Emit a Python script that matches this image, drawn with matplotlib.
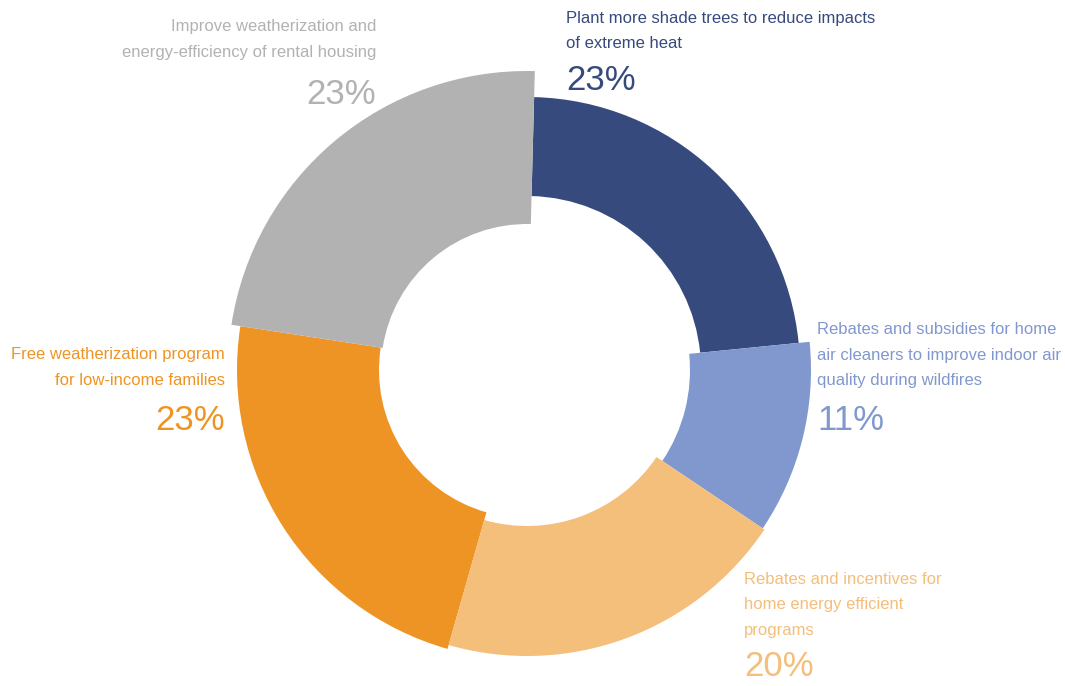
import matplotlib
matplotlib.use('Agg')
import matplotlib.pyplot as plt

# slices in drawing order (clockwise from top)
labels = ['Plant more shade trees to reduce impacts\nof extreme heat',
          'Rebates and subsidies for home\nair cleaners to improve indoor air\nquality during wildfires',
          'Rebates and incentives for\nhome energy efficient\nprograms',
          'Free weatherization program\nfor low-income families',
          'Improve weatherization and\nenergy-efficiency of rental housing']
values = [23, 11, 20, 23, 23]
colors = ['#374a7d', '#8198cf', '#f4be7b', '#ee9424', '#b2b2b2']

# each slice has its own ring size (pixels)
outer_r = [273, 284, 286, 290, 299]
inner_r = [174, 163, 156, 148, 146]
draw_order = [0, 3, 1, 2, 4]

W, H = 1065, 686
center = (527, H - 370)

fig = plt.figure(figsize=(W / 100, H / 100), dpi=100)
ax = fig.add_axes([0, 0, 1, 1])

for i in draw_order:
    cols = [colors[j] if j == i else 'none' for j in range(len(values))]
    ax.pie(values, colors=cols, startangle=88.5, counterclock=False,
           radius=outer_r[i], center=center,
           wedgeprops=dict(width=outer_r[i] - inner_r[i], linewidth=0))

# label positions: x, y of first line, y of percent (pixels from top)
label_x = [566, 817, 744, 225, 376]
label_y = [18, 330, 579, 355, 27]
pct_y = [81, 420, 667, 421, 94]
align = ['left', 'left', 'left', 'right', 'right']

font = 'Liberation Sans'
for i in range(len(values)):
    for k, line in enumerate(labels[i].split('\n')):
        ax.text(label_x[i], H - (label_y[i] + k * 25.5), line, ha=align[i], va='center',
                color=colors[i], fontsize=12, family=font)
    ax.text(label_x[i], H - pct_y[i], f'{values[i]}%', ha=align[i], va='center',
            color=colors[i], fontsize=25, family=font)

ax.set_xlim(0, W)
ax.set_ylim(0, H)
ax.set_aspect('equal')
ax.axis('off')

fig.savefig('out.png', dpi=100)
